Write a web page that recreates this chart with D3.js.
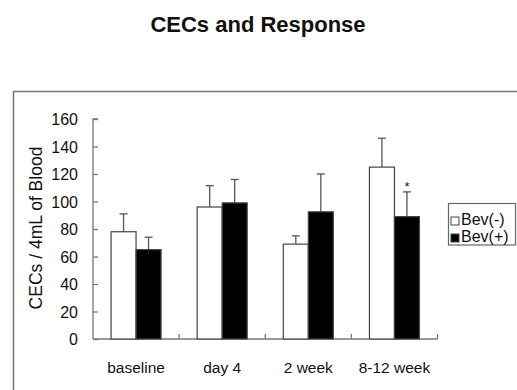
<!DOCTYPE html>
<html>
<head>
<meta charset="utf-8">
<script src="https://cdn.jsdelivr.net/npm/d3@7.9.0/dist/d3.min.js"></script>
<style>
  body { margin: 0; background: #fff; }
  text { font-family: "Liberation Sans", Arial, sans-serif; fill: #111; }
</style>
</head>
<body>
<svg id="chart" width="517" height="390"></svg>
<script>
// data
const categories = ["baseline", "day 4", "2 week", "8-12 week"];
const series = ["Bev(-)", "Bev(+)"];
const bevMinus = [78, 96, 69, 125];
const bevMinusErr = [13, 15.5, 6, 21];
const bevPlus = [65, 99, 92.5, 89];
const bevPlusErr = [9, 17, 27.5, 18];
const yTicks = [0, 20, 40, 60, 80, 100, 120, 140, 160];

const svg = d3.select("#chart");
const fills = ["#fff", "#000"];

// outer frame, cut off at right and bottom
svg.append("rect")
  .attr("x", 13.5).attr("y", 91.5)
  .attr("width", 600).attr("height", 400)
  .attr("fill", "none").attr("stroke", "#777").attr("stroke-width", 1.5);

svg.append("text")
  .attr("x", 258).attr("y", 32)
  .attr("text-anchor", "middle")
  .style("font-size", "22px").style("font-weight", "bold")
  .text("CECs and Response");

const plotL = 93, plotR = 437.5, plotT = 119, plotB = 339;

const x = d3.scaleBand().domain(categories).range([plotL, plotR]).paddingInner(0).paddingOuter(0);
const y = d3.scaleLinear().domain([0, 160]).range([plotB, plotT]);
const barW = 25;

// y axis, ticks inside
const yAxis = svg.append("g")
  .attr("transform", `translate(${plotL},0)`)
  .call(d3.axisRight(y).tickValues(yTicks).tickSize(5).tickFormat(""));
yAxis.selectAll("path, line").attr("stroke", "#777").attr("stroke-width", 1.3);
yAxis.select(".domain").attr("d", `M5,${plotT}H0V${plotB}`);

yTicks.forEach(t => {
  svg.append("text")
    .attr("x", 78).attr("y", y(t) + 6)
    .attr("text-anchor", "end")
    .style("font-size", "16px")
    .text(t);
});

// x axis with ticks pointing up at band boundaries
const xAxisG = svg.append("g");
xAxisG.append("line")
  .attr("x1", plotL).attr("x2", plotR).attr("y1", plotB).attr("y2", plotB)
  .attr("stroke", "#777").attr("stroke-width", 1.3);
categories.forEach(c => {
  const bx = x(c) + x.bandwidth();
  xAxisG.append("line")
    .attr("x1", bx).attr("x2", bx).attr("y1", plotB).attr("y2", plotB - 5)
    .attr("stroke", "#777").attr("stroke-width", 1.3);
  svg.append("text")
    .attr("x", x(c) + x.bandwidth() / 2).attr("y", 373)
    .attr("text-anchor", "middle")
    .style("font-size", "15.5px")
    .text(c);
});

svg.append("text")
  .attr("transform", "translate(41.5,228) rotate(-90)")
  .attr("text-anchor", "middle")
  .style("font-size", "17.5px")
  .text("CECs / 4mL of Blood");

// bars and error bars
const groups = [
  { vals: bevMinus, errs: bevMinusErr },
  { vals: bevPlus, errs: bevPlusErr }
];
groups.forEach((g, si) => {
  categories.forEach((c, i) => {
    const cx = x(c) + x.bandwidth() / 2;
    const bx = cx - barW + si * barW;
    const mid = bx + barW / 2;
    const errTop = y(g.vals[i] + g.errs[i]);
    svg.append("line")
      .attr("x1", mid).attr("x2", mid)
      .attr("y1", y(g.vals[i])).attr("y2", errTop)
      .attr("stroke", "#555").attr("stroke-width", 1.3);
    svg.append("line")
      .attr("x1", mid - 4).attr("x2", mid + 4)
      .attr("y1", errTop).attr("y2", errTop)
      .attr("stroke", "#555").attr("stroke-width", 1.3);
    svg.append("rect")
      .attr("x", bx).attr("y", y(g.vals[i]))
      .attr("width", barW).attr("height", plotB - y(g.vals[i]))
      .attr("fill", fills[si]).attr("stroke", "#444").attr("stroke-width", 1.2);
  });
});

// significance mark
const last = categories[3];
svg.append("text")
  .attr("x", x(last) + x.bandwidth() / 2 + barW / 2).attr("y", y(bevPlus[3] + bevPlusErr[3]) - 1)
  .attr("text-anchor", "middle")
  .style("font-size", "13px")
  .text("*");

// legend
svg.append("rect")
  .attr("x", 448.5).attr("y", 203.5).attr("width", 67).attr("height", 41.5)
  .attr("fill", "#fff").attr("stroke", "#666").attr("stroke-width", 1.2);
series.forEach((s, i) => {
  const base = 225 + i * 17;
  svg.append("rect")
    .attr("x", 451).attr("y", base - 8).attr("width", 8).attr("height", 8)
    .attr("fill", fills[i]).attr("stroke", "#444").attr("stroke-width", 1);
  svg.append("text")
    .attr("x", 461).attr("y", base)
    .style("font-size", "16px")
    .text(s);
});
</script>
</body>
</html>
